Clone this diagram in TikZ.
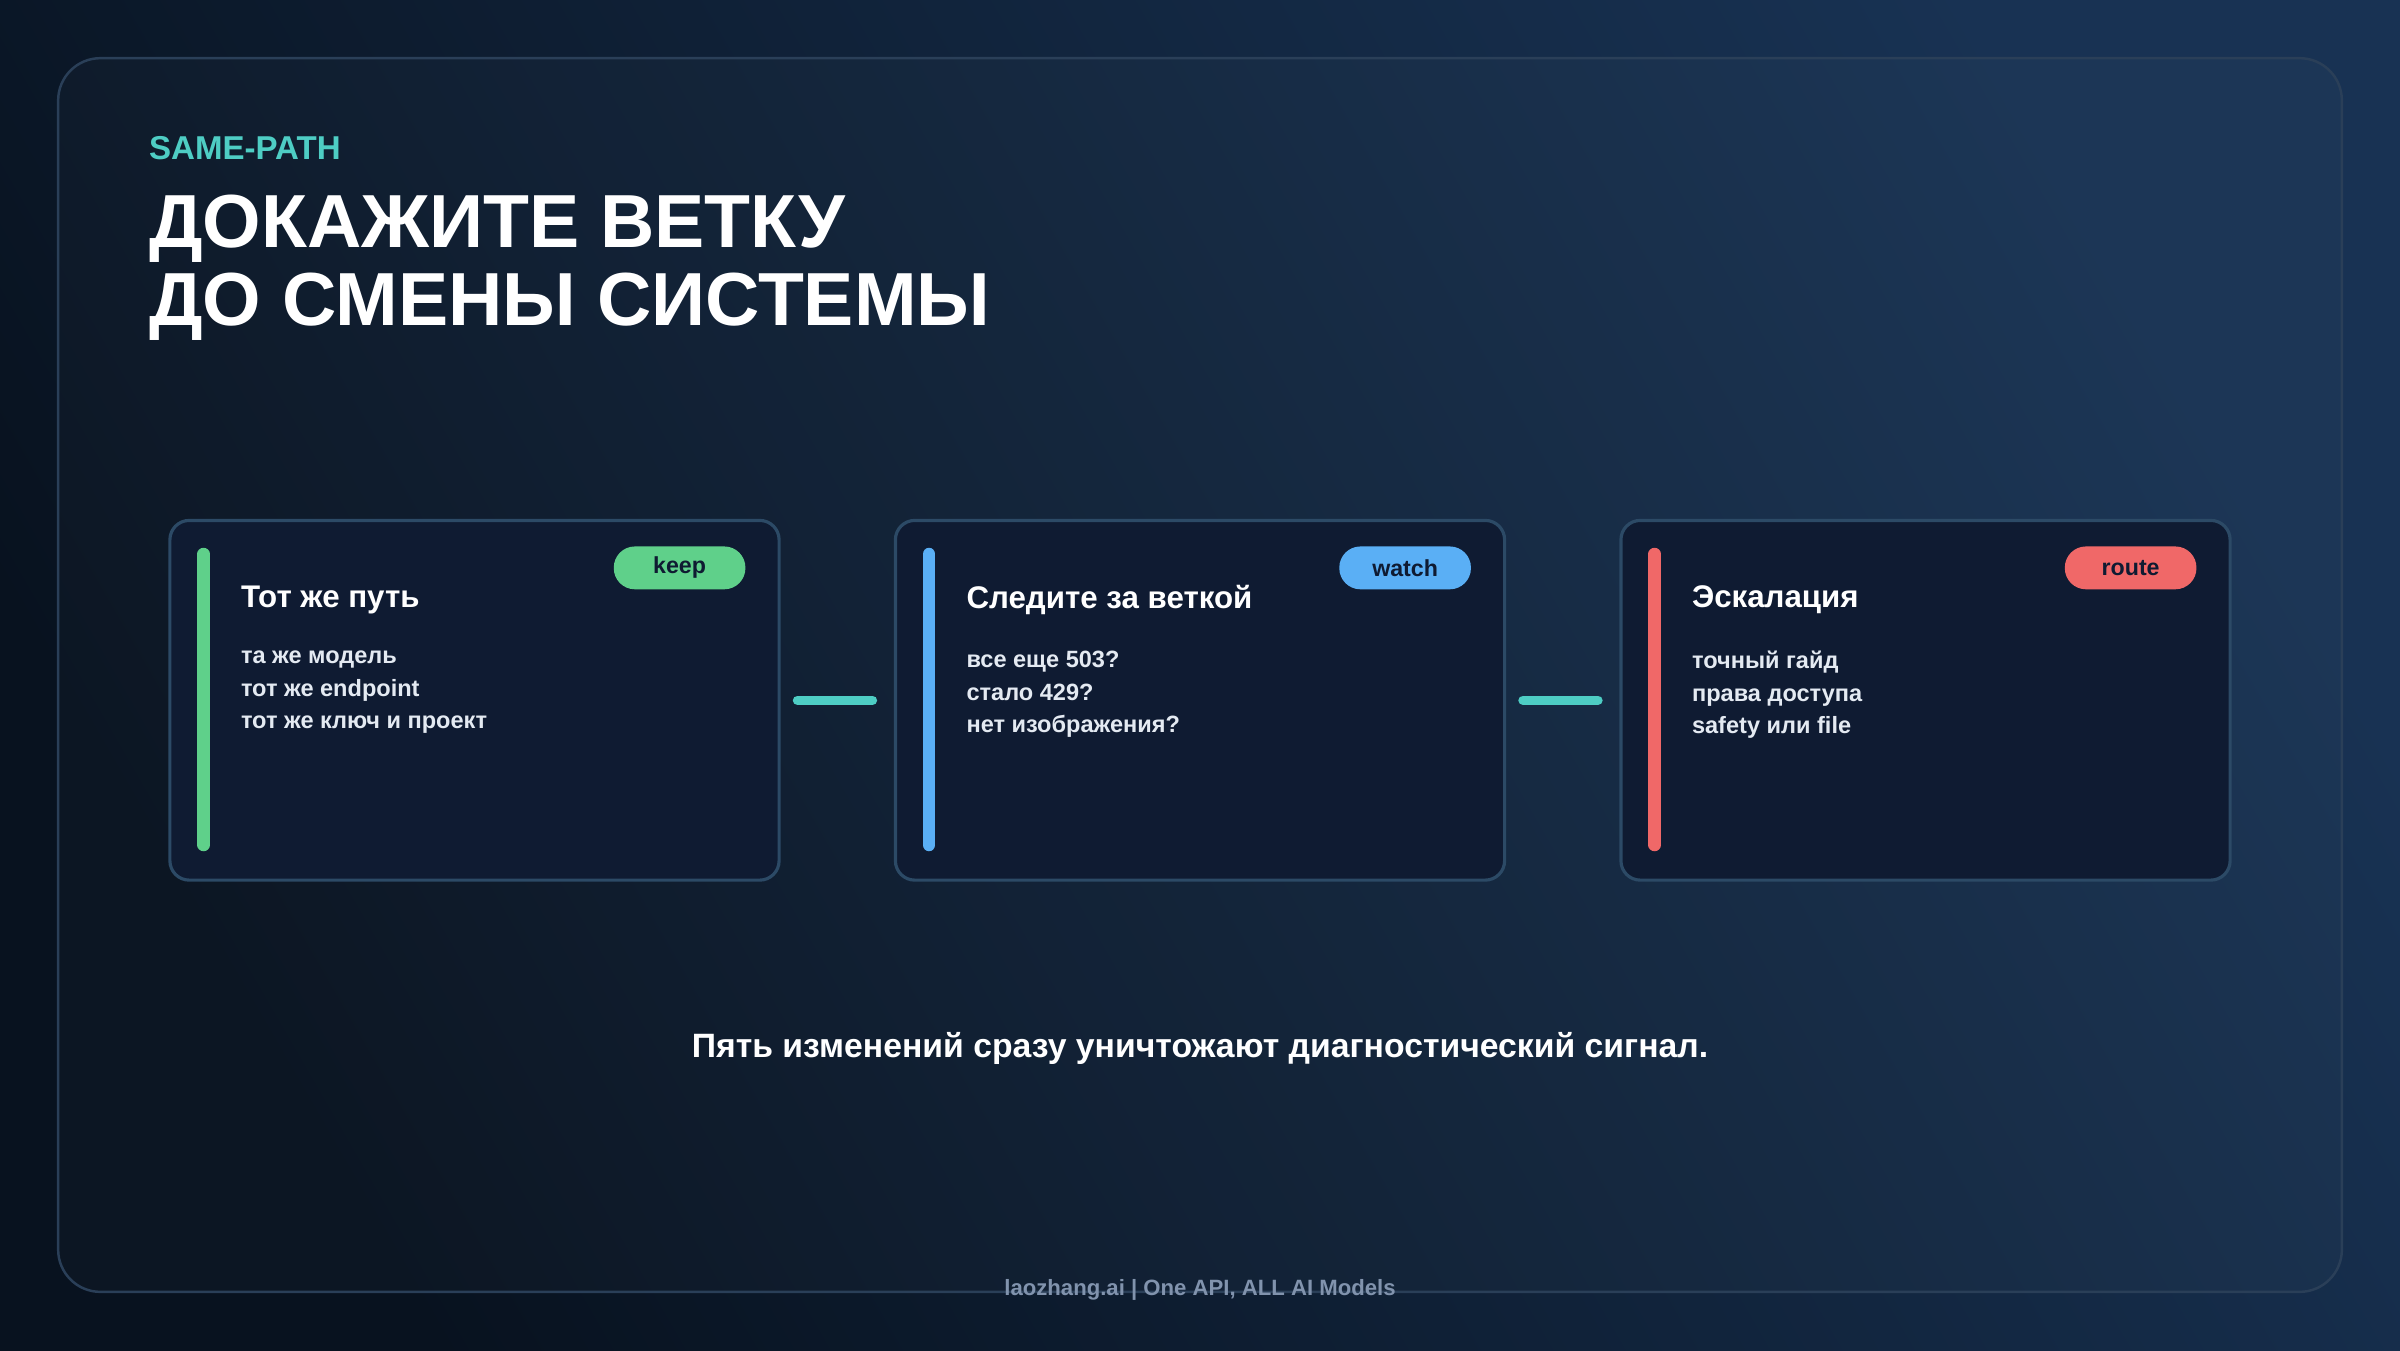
\documentclass[tikz,border=0pt]{standalone}
\usepackage{fontspec}
\setmainfont{Liberation Sans}
\usepackage{tikz}
\usetikzlibrary{positioning}
\definecolor{bgA}{HTML}{08121F}
\definecolor{bgB}{HTML}{183253}
\definecolor{frameC}{HTML}{2A3F58}
\definecolor{cardF}{HTML}{0F1B32}
\definecolor{cardD}{HTML}{2C4A66}
\definecolor{tealC}{HTML}{4ECDC4}
\definecolor{keepC}{HTML}{5FD08A}
\definecolor{watchC}{HTML}{5AAFF5}
\definecolor{routeC}{HTML}{F06868}
\definecolor{bodyC}{HTML}{E4EAF2}
\definecolor{footC}{HTML}{8193AD}
\newlength{\px}\setlength{\px}{0.015306cm}
\tikzset{
  cardbox/.style={draw=cardD,line width=0.9pt,fill=cardF,rounded corners=5.5pt,
    minimum width=398\px,minimum height=235\px,inner sep=0pt},
  sidebar/.style={line width=3.6pt,line cap=round},
  pill/.style={fill=#1,rounded corners=6pt,minimum width=86\px,minimum height=28\px,
    inner sep=0pt,font=\bfseries\fontsize{6.6}{8}\selectfont,text=cardF},
  cardtitle/.style={anchor=west,font=\bfseries\fontsize{8.9}{11}\selectfont,text=white},
  cardbody/.style={anchor=north west,align=left,font=\bfseries\fontsize{6.7}{9.2}\selectfont,text=bodyC},
  link/.style={draw=tealC,line width=2.7pt,line cap=round},
}
\begin{document}
\begin{tikzpicture}[x=\px,y=-\px]
  % background
  \shade[left color=bgA,right color=bgB,shading angle=120]
    (0,0) rectangle (1568,882);
  \useasboundingbox (0,0) rectangle (1568,882);
  \draw[frameC,line width=0.7pt,fill=white,fill opacity=0.02,rounded corners=12pt]
    (38,38) rectangle (1530,844);

  % heading
  \node[anchor=west,text=tealC,font=\bfseries\fontsize{9.4}{11}\selectfont,inner sep=0pt] (kicker) at (97,97) {SAME-PATH};
  \node[anchor=north west,align=left,text=white,inner sep=0pt,
        font=\bfseries\fontsize{21.4}{22.2}\selectfont] (title) at (97,127)
       {ДОКАЖИТЕ ВЕТКУ\\ДО СМЕНЫ СИСТЕМЫ};

  % cards
  \foreach \n/\cx/\col/\tag/\head/\body in {
      a/310/keepC/keep/{Тот же путь}/{та же модель\\тот же endpoint\\тот же ключ и проект},
      b/784/watchC/watch/{Следите за веткой}/{все еще 503?\\стало 429?\\нет изображения?},
      c/1258/routeC/route/{Эскалация}/{точный гайд\\права доступа\\safety или file}} {
    \node[cardbox] (card\n) at (\cx,457.5) {};
    \draw[sidebar,\col] (\cx-177,362) -- (\cx-177,552);
    \node[pill=\col] (pill\n) at (\cx+134,371) {\tag};
    \node[cardtitle,inner sep=0pt] (head\n) at (\cx-153,392) {\head};
    \node[cardbody,inner sep=0pt] (body\n) at (\cx-153,425) {\body};
  }

  % links
  \draw[link,shorten <=11\px,shorten >=14\px] (carda.east) -- (cardb.west);
  \draw[link,shorten <=11\px,shorten >=14\px] (cardb.east) -- (cardc.west);

  % footer
  \node[text=white,font=\bfseries\fontsize{9.6}{11}\selectfont] (note) at (784,685)
    {Пять изменений сразу уничтожают диагностический сигнал.};
  \node[text=footC,font=\bfseries\fontsize{6.3}{8}\selectfont] (brand) at (784,843)
    {laozhang.ai | One API, ALL AI Models};
\end{tikzpicture}
\end{document}
